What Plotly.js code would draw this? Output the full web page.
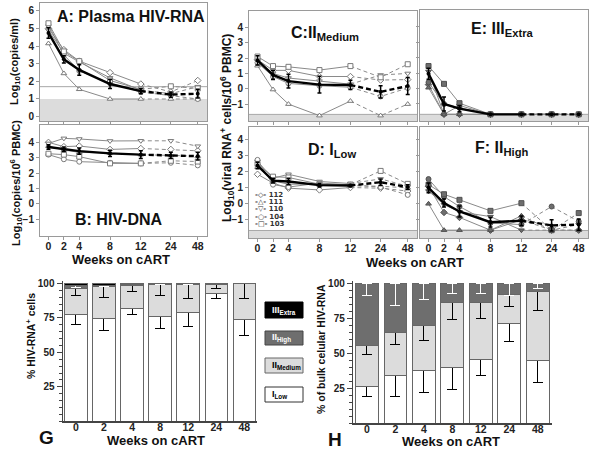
<!DOCTYPE html>
<html><head><meta charset="utf-8">
<script src="https://cdn.plot.ly/plotly-3.0.1.min.js"></script>
<style>html,body{margin:0;padding:0;background:#fff}#chart{width:600px;height:456px}</style>
</head><body><div id="chart"></div>
<script>
// ---------- data ----------
const weeks = [0, 2, 4, 8, 12, 24, 48];
const weekLabels = ['0', '2', '4', '8', '12', '24', '48'];
const patients = ['112', '111', '110', '104', '103'];

// rows: patients 112, 111, 110, 104, 103
const A_vals = [
  [5.00, 3.80, 3.15, 2.50, 1.85, 1.40, 2.05],
  [4.15, 2.45, 1.55, 1.00, 1.00, 1.00, 1.00],
  [4.90, 3.60, 3.10, 2.20, 1.50, 1.30, 1.70],
  [5.20, 3.50, 2.60, 1.90, 1.40, 1.20, 1.00],
  [5.30, 3.70, 3.15, 2.05, 1.55, 1.72, 1.60]
];
const A_mean = [4.75, 3.25, 2.65, 1.85, 1.45, 1.25, 1.30];
const A_sd = [0.30, 0.20, 0.30, 0.25, 0.15, 0.15, 0.25];

const B_vals = [
  [4.00, 3.72, 3.76, 3.54, 3.60, 3.54, 3.45],
  [3.75, 3.50, 3.35, 3.30, 3.20, 3.15, 3.10],
  [3.93, 4.26, 4.22, 4.09, 4.10, 4.10, 3.75],
  [3.20, 2.90, 2.74, 2.67, 2.63, 2.67, 2.50],
  [3.26, 3.20, 3.07, 2.63, 2.63, 2.80, 2.75]
];
const B_mean = [3.70, 3.55, 3.43, 3.28, 3.20, 3.15, 3.10];
const B_sd = [0.15, 0.15, 0.20, 0.20, 0.25, 0.20, 0.25];

const C_vals = [
  [1.90, 1.20, 1.20, 0.80, 0.80, 0.57, 0.60],
  [1.50, -0.05, -1.00, -1.75, -0.80, -1.75, -1.00],
  [1.80, 1.00, 0.70, 0.50, 0.30, 0.90, 1.00],
  [1.70, 0.80, 0.35, 0.20, 0.10, -0.50, 0.05],
  [2.10, 1.48, 1.43, 1.22, 1.48, 0.75, 1.60]
];
const C_mean = [1.85, 0.90, 0.50, 0.27, 0.25, -0.20, 0.18];
const C_sd = [0.30, 0.30, 0.45, 0.55, 0.30, 0.40, 0.55];

const D_vals = [
  [1.85, 1.30, 0.98, 0.87, 1.02, 0.98, 0.80],
  [2.30, 1.44, 1.23, 1.23, 1.13, 1.10, 1.00],
  [2.65, 1.60, 1.85, 1.40, 1.27, 1.56, 1.10],
  [2.75, 1.20, 1.05, 1.30, 1.19, 1.05, 0.56],
  [2.50, 1.70, 1.65, 1.23, 1.20, 2.06, 1.25]
];
const D_mean = [2.40, 1.45, 1.40, 1.17, 1.15, 1.35, 1.05];
const D_sd = [0.20, 0.15, 0.20, 0.12, 0.08, 0.20, 0.15];

const E_vals = [
  [0.25, -1.67, -1.67, -1.67, -1.67, -1.67, -1.67],
  [0.05, -1.67, -1.67, -1.67, -1.67, -1.67, -1.67],
  [1.10, -1.67, -1.10, -1.67, -1.67, -1.67, -1.67],
  [0.40, -1.00, -1.25, -1.67, -1.67, -1.67, -1.67],
  [1.45, 0.30, -0.95, -1.67, -1.67, -1.67, -1.67]
];
const E_mean = [0.95, -1.00, -1.30, -1.67, -1.67, -1.67, -1.67];
const E_sd = [0.35, 0.45, 0.20, 0.00, 0.00, 0.00, 0.00];

const F_vals = [
  [1.10, -0.54, -0.85, -1.65, -1.00, -1.65, -1.65],
  [0.00, -1.65, -1.65, -1.65, -0.75, -1.65, -1.65],
  [0.80, -0.05, -0.50, -0.80, -1.65, -1.65, -1.30],
  [1.55, 0.45, -0.17, -1.20, -1.30, -0.17, -1.10],
  [1.20, 0.60, 0.25, -0.44, 0.04, -1.65, -0.58]
];
const F_mean = [1.00, 0.05, -0.48, -1.15, -1.06, -1.35, -1.30];
const F_sd = [0.30, 0.25, 0.35, 0.30, 0.30, 0.35, 0.35];

// G: % HIV-RNA+ cells per class (segment sizes) and lower error
const G_low = [77.4, 74.8, 82.0, 76.0, 79.0, 92.7, 73.8];
const G_low_err = [7.0, 8.8, 4.3, 8.5, 10.5, 3.8, 11.3];
const G_med = [19.2, 22.6, 16.8, 22.9, 20.2, 6.3, 25.8];
const G_med_err = [5.4, 7.5, 4.4, 8.0, 10.0, 2.9, 10.5];
const G_high = [1.8, 1.4, 0.6, 0.7, 0.5, 0.4, 0.2];
const G_high_err = [1.5, 1.0, 0.5, 0.3, 0.3, 0.3, 0.2];
const G_extra = [1.6, 1.2, 0.6, 0.4, 0.3, 0.6, 0.2];

// H: % of bulk cellular HIV-RNA
const H_low = [26.4, 34.0, 37.6, 39.7, 45.4, 71.1, 45.0];
const H_low_err = [7.6, 15.2, 15.5, 15.4, 11.4, 12.8, 15.7];
const H_med = [29.5, 30.7, 32.4, 46.7, 40.7, 20.8, 49.3];
const H_med_err = [7.1, 8.3, 11.2, 12.1, 11.1, 8.3, 13.6];
const H_high = [44.1, 35.3, 30.0, 13.6, 13.9, 8.1, 5.7];
const H_high_err = [8.8, 15.7, 11.4, 7.1, 7.1, 8.5, 3.6];

// ---------- helpers ----------
const FONT = 'Liberation Sans, Arial, sans-serif';
const W = 600, H = 456;
const px = x => x / W;
const py = y => 1 - y / H;
const xdom = (a, b) => [px(a), px(b)];
const ydom = (top, bot) => [py(bot), py(top)];
// broken time axis: linear to week 12, then compressed segments
function brk(w) {
  if (w <= 12) return w;
  if (w <= 24) return 12 + (w - 12) * 3.9 / 12;
  return 15.9 + (w - 24) * 3.5 / 24;
}
const symbols = ['diamond', 'triangle-up', 'triangle-down', 'circle', 'square'];
const traces = [];
const zeros = weeks.map(() => 0);

function linePanel(vals, mean, sd, n, filled) {
  const xa = 'x' + (n === 1 ? '' : n), ya = 'y' + (n === 1 ? '' : n);
  const xs = weeks.map(brk);
  vals.forEach((v, i) => {
    const base = {xaxis: xa, yaxis: ya, showlegend: false, hoverinfo: 'skip', cliponaxis: false};
    traces.push(Object.assign({}, base, {x: xs.slice(0, 5), y: v.slice(0, 5), mode: 'lines', line: {color: '#8a8a8a', width: 1}}));
    traces.push(Object.assign({}, base, {x: xs.slice(4), y: v.slice(4), mode: 'lines', line: {color: '#8a8a8a', width: 1, dash: '4px,3px'}}));
    traces.push(Object.assign({}, base, {x: xs, y: v, mode: 'markers', name: patients[i],
      marker: {symbol: symbols[i], size: 5, color: filled ? '#6e6e6e' : '#ffffff', line: {color: filled ? '#505050' : '#7a7a7a', width: 1}}}));
  });
  const base = {xaxis: xa, yaxis: ya, showlegend: false, hoverinfo: 'skip', cliponaxis: false};
  traces.push(Object.assign({}, base, {x: xs.slice(0, 5), y: mean.slice(0, 5), mode: 'lines', line: {color: '#000', width: 2.4}}));
  traces.push(Object.assign({}, base, {x: xs.slice(4), y: mean.slice(4), mode: 'lines', line: {color: '#000', width: 2.4, dash: '5px,3px'}}));
  traces.push(Object.assign({}, base, {x: xs, y: mean, mode: 'markers', marker: {symbol: 'circle', size: 4, color: '#000'},
    error_y: {type: 'data', array: sd, color: '#000', thickness: 1.5, width: 2}}));
}
linePanel(A_vals, A_mean, A_sd, 1, false);
linePanel(B_vals, B_mean, B_sd, 2, false);
linePanel(C_vals, C_mean, C_sd, 3, false);
linePanel(D_vals, D_mean, D_sd, 4, false);
linePanel(E_vals, E_mean, E_sd, 5, true);
linePanel(F_vals, F_mean, F_sd, 6, true);

function barTrace(vals, errs, color, ecolor, xa, ya) {
  const t = {type: 'bar', x: weekLabels, y: vals, xaxis: xa, yaxis: ya, showlegend: false, hoverinfo: 'skip',
    marker: {color: color, line: {color: '#666', width: 1}}};
  if (errs) t.error_y = {type: 'data', symmetric: false, array: zeros, arrayminus: errs, color: ecolor, thickness: 1, width: 5};
  return t;
}
traces.push(barTrace(G_low, G_low_err, '#ffffff', '#000', 'x7', 'y7'));
traces.push(barTrace(G_med, G_med_err, '#dcdcdc', '#000', 'x7', 'y7'));
traces.push(barTrace(G_high, G_high_err, '#6e6e6e', '#fff', 'x7', 'y7'));
traces.push(barTrace(G_extra, null, '#000000', '#fff', 'x7', 'y7'));
traces.push(barTrace(H_low, H_low_err, '#ffffff', '#000', 'x8', 'y8'));
traces.push(barTrace(H_med, H_med_err, '#dcdcdc', '#000', 'x8', 'y8'));
traces.push(barTrace(H_high, H_high_err, '#6e6e6e', '#fff', 'x8', 'y8'));

// ---------- layout ----------
const tickFont = {family: FONT, size: 10, color: '#222', weight: 'bold'};
const xTickFont = {family: FONT, size: 10.5, color: '#222', weight: 'bold'};
function lineX(dom, anchor, labels) {
  return {domain: dom, anchor: anchor, range: [-1.1, 20.6], tickvals: weeks.map(brk), ticktext: weekLabels,
    showticklabels: labels, tickfont: xTickFont, ticks: 'outside', ticklen: 3, tickcolor: '#999', ticklabelstandoff: -3,
    showline: true, mirror: true, linecolor: '#9a9a9a', linewidth: 1, showgrid: false, zeroline: false, fixedrange: true};
}
function lineY(dom, anchor, range, tv, labels) {
  return {domain: dom, anchor: anchor, range: range, tickvals: tv, showticklabels: labels, tickfont: tickFont,
    ticks: 'outside', ticklen: 3, tickcolor: '#999', showline: true, mirror: true, linecolor: '#9a9a9a', linewidth: 1,
    showgrid: false, zeroline: false, fixedrange: true};
}
function barX(dom, anchor, range) {
  return {domain: dom, anchor: anchor, type: 'category', range: range, tickfont: {family: FONT, size: 10.5, color: '#222', weight: 'bold'},
    ticks: '', ticklabelstandoff: -4,
    showline: true, linecolor: '#444', linewidth: 1.5, showgrid: false, zeroline: false, fixedrange: true};
}
function barY(dom, anchor) {
  return {domain: dom, anchor: anchor, range: [0, 101.5], tickvals: [25, 50, 75, 100], tickfont: tickFont,
    ticks: 'outside', ticklen: 5, tickcolor: '#444', minor: {dtick: 5, ticks: 'outside', ticklen: 3, tickcolor: '#444'},
    showline: true, linecolor: '#444', linewidth: 1.5, showgrid: false, zeroline: false, fixedrange: true};
}
const clY = [-1, 0, 1, 2, 3, 4];

const layout = {
  width: W, height: H, margin: {l: 0, r: 0, t: 0, b: 0}, paper_bgcolor: '#fff', plot_bgcolor: '#fff',
  showlegend: false, barmode: 'stack', bargap: 0.2, font: {family: FONT, color: '#222'},
  xaxis: lineX(xdom(40, 207), 'y', false),
  yaxis: lineY(ydom(3, 121), 'x', [-0.25, 6.45], [0, 1, 2, 3, 4, 5, 6], true),
  xaxis2: lineX(xdom(40, 207), 'y2', true),
  yaxis2: lineY(ydom(125, 236), 'x2', [-2.1, 5.13], clY, true),
  xaxis3: lineX(xdom(249, 417), 'y3', false),
  yaxis3: lineY(ydom(11, 121), 'x3', [-2.1, 5.07], clY, true),
  xaxis4: lineX(xdom(249, 417), 'y4', true),
  yaxis4: lineY(ydom(127, 238), 'x4', [-2.14, 4.81], clY, true),
  xaxis5: lineX(xdom(420, 588), 'y5', false),
  yaxis5: lineY(ydom(10, 121), 'x5', [-2.1, 5.07], clY, false),
  xaxis6: lineX(xdom(420, 588), 'y6', true),
  yaxis6: lineY(ydom(127, 238), 'x6', [-2.14, 4.81], clY, false),
  xaxis7: barX(xdom(63, 257), 'y7', [-0.46, 6.45]),
  yaxis7: barY(ydom(281.3, 421.3), 'x7'),
  xaxis8: barX(xdom(353.3, 551.7), 'y8', [-0.48, 6.49]),
  yaxis8: barY(ydom(281.2, 423.3), 'x8'),
  shapes: [], annotations: []
};

// grey "below detection" bands and limit lines
function band(n, top, lineY) {
  const xr = 'x' + (n === 1 ? '' : n) + ' domain', yr = 'y' + (n === 1 ? '' : n);
  layout.shapes.push({type: 'rect', xref: xr, yref: yr, x0: 0, x1: 1, y0: -5, y1: top, fillcolor: '#dcdcdc', line: {width: 0}, layer: 'below'});
  layout.shapes.push({type: 'line', xref: xr, yref: yr, x0: 0, x1: 1, y0: lineY, y1: lineY, line: {color: '#a8a8a8', width: 1}, layer: 'below'});
}
band(1, 1.0, 1.7);
band(3, -1.67, -1.67);
band(4, -1.67, -1.67);
band(5, -1.67, -1.67);
band(6, -1.67, -1.67);

const ann = (x, y, text, size, opts) => layout.annotations.push(Object.assign({
  xref: 'paper', yref: 'paper', x: px(x), y: py(y), text: text, showarrow: false,
  font: {family: FONT, size: size, color: '#111', weight: 'bold'}, xanchor: 'center', yanchor: 'middle'}, opts || {}));

// panel titles
ann(55, 17, 'A: Plasma HIV-RNA', 16, {xanchor: 'left'});
ann(73, 219, 'B: HIV-DNA', 16, {xanchor: 'left'});
ann(325, 33, 'C:II<sub>Medium</sub>', 16);
ann(332, 150, 'D: I<sub>Low</sub>', 16);
ann(502, 30, 'E: III<sub>Extra</sub>', 16);
ann(501, 148, 'F: II<sub>High</sub>', 16);

// axis titles
ann(15, 62, 'Log<sub>10</sub>(copies/ml)', 11, {textangle: -90});
ann(16, 183, 'Log<sub>10</sub>(copies/10<sup>6</sup> PBMC)', 11, {textangle: -90});
ann(227, 128, 'Log<sub>10</sub>(viral RNA<sup>+</sup> cells/10<sup>6</sup> PBMC)', 12, {textangle: -90});
ann(121, 259.5, 'Weeks on cART', 13);
ann(415, 262.5, 'Weeks on cART', 13);
ann(30, 336, '% HIV-RNA<sup>+</sup> cells', 10.5, {textangle: -90});
ann(321, 349, '% of bulk celular HIV-RNA', 10.5, {textangle: -90});
ann(156, 440, 'Weeks on cART', 13);
ann(451, 441, 'Weeks on cART', 13);
ann(46, 437, 'G', 19);
ann(335, 439, 'H', 19);

// patient key in panel D
const keyGlyph = ['◇', '△', '▽', '○', '□'];
[195, 202, 209.3, 216.7, 224].forEach((y, i) => {
  ann(253, y, '-' + keyGlyph[i] + '- ' + patients[i], 7, {xanchor: 'left', font: {family: 'DejaVu Sans, ' + FONT, size: 7, color: '#333', weight: 'bold'}});
});

// class key between G and H
const keyBoxes = [
  {y0: 302, y1: 318, fill: '#000', line: '#000', text: 'III<sub>Extra</sub>', tc: '#fff'},
  {y0: 331, y1: 345, fill: '#6e6e6e', line: '#444', text: 'II<sub>High</sub>', tc: '#fff'},
  {y0: 358, y1: 373, fill: '#dcdcdc', line: '#666', text: 'II<sub>Medium</sub>', tc: '#000'},
  {y0: 387, y1: 402, fill: '#fff', line: '#333', text: 'I<sub>Low</sub>', tc: '#000'}
];
keyBoxes.forEach(b => {
  layout.shapes.push({type: 'rect', xref: 'paper', yref: 'paper', x0: px(265), x1: px(303), y0: py(b.y1), y1: py(b.y0),
    fillcolor: b.fill, line: {color: b.line, width: 1}});
  ann(270, (b.y0 + b.y1) / 2, b.text, 9, {xanchor: 'left', font: {family: FONT, size: 9, color: b.tc, weight: 'bold'}});
});

Plotly.newPlot('chart', traces, layout, {staticPlot: true, displayModeBar: false});
</script>
</body></html>
